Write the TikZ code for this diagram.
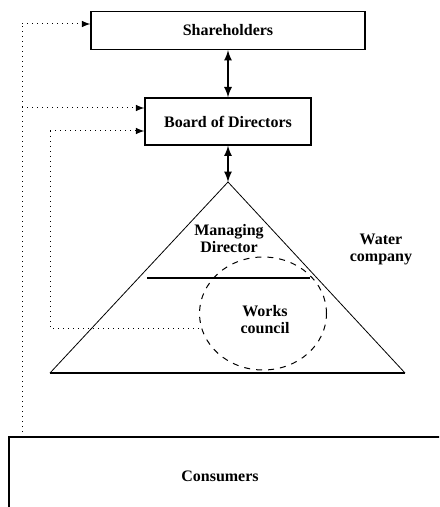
\documentclass[tikz,border=0pt]{standalone}
\usepackage{fontspec}
\setmainfont{Liberation Serif}
\usetikzlibrary{shapes.geometric}
\tikzset{>=latex}
\tikzset{
  box/.style={draw,line width=0.6pt,inner sep=0pt},
  lbl/.style={font=\fontsize{8}{8.5}\selectfont\bfseries,align=center},
  link/.style={dotted,line width=0.5pt},
}

\begin{document}
\begin{tikzpicture}[x=0.5pt,y=-0.5pt]
  \useasboundingbox (0,0) rectangle (439,507);
  \clip (0,0) rectangle (439,507);
  \node[box,lbl,minimum width=137pt,minimum height=19pt] (sh) at (228,30.5) {Shareholders};
  \node[box,lbl,minimum width=83pt,minimum height=23.5pt] (bd) at (228,121.5) {Board of Directors};
  \coordinate (apex) at (228,182);
  \coordinate (bl) at (50,373);
  \coordinate (br) at (405,373);
  \draw[line width=0.4pt] (bl) -- (apex) -- (br);
  \draw[line width=1pt] (bl) -- (br);
  \draw[line width=1pt] (147,278) -- (310,278);
  \node[draw,dashed,ellipse,line width=0.5pt,minimum width=63.5pt,minimum height=56.5pt] (wc) at (263,313.5) {};
  \node[lbl] (md) at (229,239) {Managing\\Director};
  \node[lbl] (wk) at (265,320) {Works\\council};
  \node[lbl] (wco) at (381,249) {Water\\company};
  \draw[<->,thick] (sh.south) -- (bd.north);
  \draw[<->,thick] (bd.south) -- (apex);
  % consumers
  \draw[line width=0.8pt] (450,437) -- (9,437) -- (9,520);
  \node[lbl] (co) at (220,476) {Consumers};
  % dotted feedback lines
  \coordinate (a1) at (22,24);
  \coordinate (a2) at (22,108);
  \coordinate (a3) at (22,437);
  \coordinate (b1) at (50,131);
  \coordinate (b2) at (50,328);
  \draw[link] (a3) -- (a1);
  \draw[link,->] (a1) -- (a1 -| sh.west);
  \draw[link,->] (a2) -- (a2 -| bd.west);
  \draw[link,->] (b1) -- (b1 -| bd.west);
  \draw[link] (b1) -- (b2) -- (b2 -| wc.west);
\end{tikzpicture}
\end{document}
